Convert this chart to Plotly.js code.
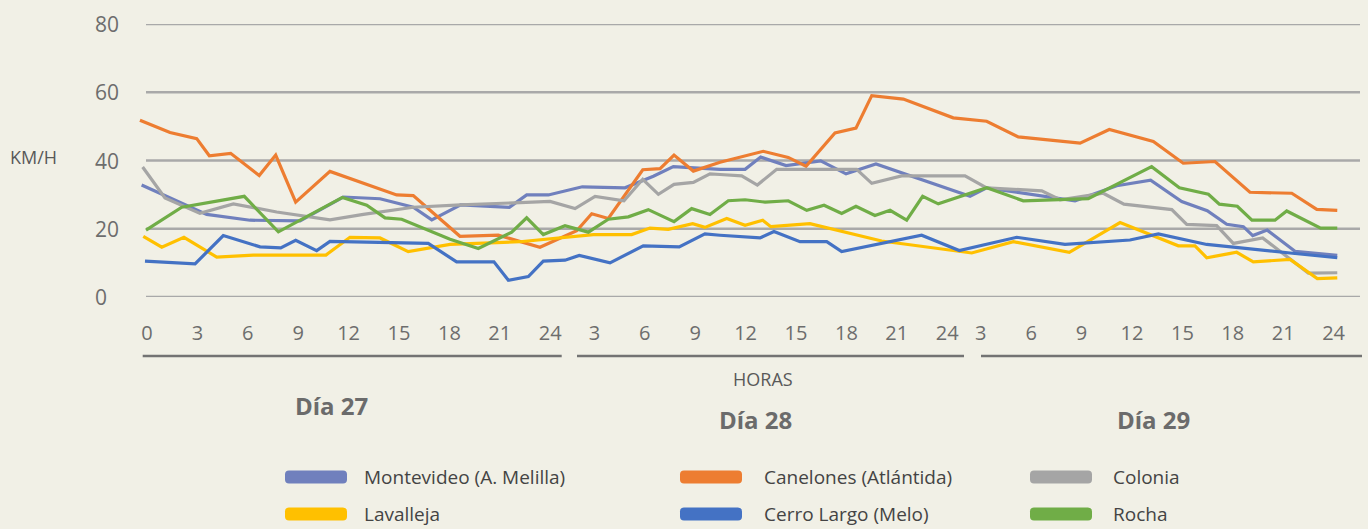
<!DOCTYPE html>
<html><head><meta charset="utf-8">
<script src="https://cdn.plot.ly/plotly-3.0.1.min.js"></script>
<style>html,body{margin:0;padding:0;background:#f1f0e6;} #chart{width:1368px;height:529px;}</style>
</head><body><div id="chart"></div>
<script>
// ---- Data (x = continuous hour position on the axis, y = km/h) ----
const seriesNames = ['Montevideo (A. Melilla)', 'Canelones (Atlántida)', 'Colonia', 'Lavalleja', 'Cerro Largo (Melo)', 'Rocha'];
const seriesColors = ['#7080bd', '#ed7d31', '#a5a5a5', '#ffc000', '#4472c4', '#70ad47'];

const montevideoX = [-0.32,3.55,6.13,9.11,11.68,13.87,15.85,16.95,18.67,21.57,22.6,23.89,25.91,28.45,30.14,31.33,34.11,35.6,36.53,38.04,40.1,41.61,43.39,48.99,49.98,55.24,57.72,59.74,61.59,63.11,64.27,65.26,65.82,66.68,68.33,70.85];
const montevideoY = [32.8,24.2,22.5,22.3,29.3,28.8,26.3,22.6,27.0,26.3,29.9,29.9,32.3,32.0,35.4,38.2,37.4,37.4,41.0,38.5,39.9,36.1,39.0,29.5,32.0,28.2,32.6,34.2,28.0,25.3,21.3,20.6,18.0,19.6,13.4,12.2];

const canelonesX = [-0.42,1.37,2.96,3.71,4.98,6.68,7.66,8.85,10.89,14.86,15.85,18.63,20.91,23.39,25.58,26.47,27.46,29.51,30.54,31.37,32.52,34.11,36.68,38.17,39.23,40.95,42.2,43.14,45.02,47.99,49.98,51.86,55.54,57.28,59.9,61.68,63.57,65.65,68.14,69.63,70.85];
const canelonesY = [51.8,48.2,46.4,41.4,42.1,35.6,41.6,27.8,36.8,29.9,29.7,17.8,18.1,14.6,19.4,24.4,23.0,37.3,37.6,41.6,36.9,39.5,42.7,40.9,38.3,48.1,49.5,59.0,58.0,52.5,51.5,46.9,45.1,49.1,45.6,39.2,39.7,30.7,30.4,25.7,25.4];

const coloniaX = [-0.26,1.07,3.15,5.14,7.72,10.89,12.88,15.85,18.67,23.99,25.48,26.67,28.39,29.51,30.44,31.37,32.52,33.51,34.11,35.4,36.33,37.48,42.24,43.14,44.92,48.69,49.98,53.26,54.35,56.92,58.15,61.0,61.89,63.67,64.66,66.41,69.13,70.85];
const coloniaY = [38.1,29.0,24.5,27.3,24.9,22.6,24.2,26.3,27.0,28.0,25.9,29.5,28.2,34.5,30.1,33.0,33.6,36.1,35.9,35.5,32.8,37.4,37.4,33.3,35.5,35.5,32.0,31.1,28.5,30.4,27.2,25.6,21.3,20.9,15.7,17.3,7.0,7.1];

const lavallejaX = [-0.22,0.88,2.2,4.15,6.33,10.65,12.08,13.87,15.55,16.85,18.04,22.2,26.57,28.85,29.94,31.03,32.48,33.21,34.51,35.6,36.65,37.13,39.46,43.73,49.09,51.57,54.9,57.92,61.39,62.38,63.08,64.86,65.85,68.04,69.66,70.85];
const lavallejaY = [17.8,14.6,17.5,11.7,12.3,12.3,17.5,17.3,13.3,14.5,15.4,16.2,18.3,18.3,20.2,19.8,21.5,20.4,23.0,21.0,22.5,20.6,21.5,16.4,12.9,16.2,13.1,21.8,15.0,15.0,11.5,13.1,10.3,11.0,5.4,5.6];

const cerroLargoX = [-0.12,2.86,4.54,6.73,7.96,8.85,10.1,10.89,16.74,18.43,20.65,21.51,22.7,23.59,24.88,25.73,27.56,29.54,31.68,33.21,34.11,36.49,37.32,38.87,40.46,41.35,46.11,48.35,51.77,54.64,58.51,60.2,63.08,65.26,68.04,70.85];
const cerroLargoY = [10.5,9.7,18.0,14.7,14.4,16.6,13.6,16.3,15.7,10.3,10.3,4.9,6.0,10.5,10.8,12.2,10.0,15.0,14.7,18.5,18.1,17.3,19.2,16.2,16.2,13.3,18.1,13.6,17.5,15.4,16.7,18.5,15.4,14.4,12.9,11.5];

const rochaX = [-0.06,2.07,5.79,7.82,11.63,13.08,14.17,15.16,18.04,19.72,21.71,22.6,23.59,24.88,26.27,27.46,28.65,29.84,31.37,32.42,33.51,34.6,35.6,36.79,38.17,39.27,40.3,41.35,42.2,43.33,44.23,45.22,46.17,47.1,49.98,52.16,56.03,57.72,59.8,61.45,63.18,63.83,64.9,65.77,67.14,67.84,69.86,70.85];
const rochaY = [19.6,26.3,29.5,19.1,29.2,26.9,23.2,22.8,16.9,14.2,19.0,23.2,18.3,20.9,19.0,22.8,23.5,25.6,22.1,25.9,24.2,28.2,28.5,27.8,28.2,25.4,26.9,24.5,26.6,23.9,25.4,22.5,29.5,27.3,32.0,28.2,28.8,33.0,38.2,32.0,30.1,27.2,26.6,22.5,22.5,25.2,20.2,20.2];

// Axis ticks
const dayNames = ['Día 27', 'Día 28', 'Día 29'];
const dayOffsets = [0, 23.63, 46.63];
const dayTickHours = [[0,3,6,9,12,15,18,21,24],[3,6,9,12,15,18,21,24],[3,6,9,12,15,18,21,24]];
const yTicks = [0, 20, 40, 60, 80];
const xTitle = 'HORAS';
const yTitle = 'KM/H';

// ---- Layout geometry (pixels) ----
const W = 1368, H = 529, L = 139, R = 1362, T = 24, B = 297;
const pxX = x => (x - L) / (R - L);
const pxY = y => (B - y) / (B - T);
const FONT = 'Open Sans, Noto Sans, sans-serif';

const xs = [montevideoX, canelonesX, coloniaX, lavallejaX, cerroLargoX, rochaX];
const ys = [montevideoY, canelonesY, coloniaY, lavallejaY, cerroLargoY, rochaY];

const traces = seriesNames.map((n, i) => ({
  type: 'scatter', mode: 'lines', name: n, x: xs[i], y: ys[i],
  line: {color: seriesColors[i], width: 3.2}, hoverinfo: 'skip', cliponaxis: false
}));

const tickvals = [], ticktext = [];
dayTickHours.forEach((hrs, d) => hrs.forEach(h => { tickvals.push(dayOffsets[d] + h); ticktext.push(String(h)); }));

const shapes = [];
const annotations = [];
// horizontal gridlines
yTicks.forEach(v => shapes.push({type: 'line', xref: 'paper', yref: 'y', x0: pxX(146), x1: pxX(1360), y0: v, y1: v, line: {color: '#a9a9a9', width: 2.6}, layer: 'below'}));
// y tick labels (left aligned)
yTicks.forEach(v => annotations.push({xref: 'paper', yref: 'y', x: pxX(93), y: v, xanchor: 'left', yanchor: 'middle', text: String(v), showarrow: false, font: {family: FONT, size: 21, color: '#6d6d6d'}}));
// day brackets
const bracketPx = [[142.7, 561.7], [577, 964], [981, 1362]];
bracketPx.forEach(b => shapes.push({type: 'line', xref: 'paper', yref: 'paper', x0: pxX(b[0]), x1: pxX(b[1]), y0: pxY(356), y1: pxY(356), line: {color: '#737373', width: 2.6}}));
// day labels
const dayLabelPx = [[331, 405], [755, 419], [1153, 419]];
dayNames.forEach((d, i) => annotations.push({xref: 'paper', yref: 'paper', x: pxX(dayLabelPx[i][0]), y: pxY(dayLabelPx[i][1]), xanchor: 'center', yanchor: 'middle', text: '<b>' + d + '</b>', showarrow: false, font: {family: FONT, size: 24, color: '#6b6b6b'}}));
// axis titles
annotations.push({xref: 'paper', yref: 'paper', x: pxX(763), y: pxY(379), xanchor: 'center', yanchor: 'middle', text: xTitle, showarrow: false, font: {family: FONT, size: 18, color: '#595959'}});
annotations.push({xref: 'paper', yref: 'paper', x: pxX(33), y: pxY(157), xanchor: 'center', yanchor: 'middle', text: yTitle, showarrow: false, font: {family: FONT, size: 18, color: '#595959'}});

// custom legend (3 columns x 2 rows)
const legSwatchX = [285, 680, 1030], legTextX = [362, 762, 1111], legRowY = [477, 514];
function roundRect(x0, yc, w, h, r) {
  const a = pxX(x0), b = pxX(x0 + w), top = pxY(yc - h / 2), bot = pxY(yc + h / 2);
  const rx = r / (R - L), ry = r / (B - T);
  return `M ${a + rx} ${top} L ${b - rx} ${top} Q ${b} ${top} ${b} ${top - ry} L ${b} ${bot + ry} Q ${b} ${bot} ${b - rx} ${bot} L ${a + rx} ${bot} Q ${a} ${bot} ${a} ${bot + ry} L ${a} ${top - ry} Q ${a} ${top} ${a + rx} ${top} Z`;
}
seriesNames.forEach((n, i) => {
  const col = i % 3, row = Math.floor(i / 3);
  shapes.push({type: 'path', xref: 'paper', yref: 'paper', path: roundRect(legSwatchX[col], legRowY[row], 62, 13, 4), fillcolor: seriesColors[i], line: {width: 0}});
  annotations.push({xref: 'paper', yref: 'paper', x: pxX(legTextX[col]), y: pxY(legRowY[row]), xanchor: 'left', yanchor: 'middle', text: n, showarrow: false, font: {family: FONT, size: 19, color: '#444444'}});
});

const layout = {
  width: W, height: H,
  margin: {l: L, r: W - R, t: T, b: H - B, pad: 0},
  paper_bgcolor: '#f1f0e6', plot_bgcolor: '#f1f0e6',
  showlegend: false, hovermode: false,
  xaxis: {range: [(L - 147) / 16.8, (R - 147) / 16.8], tickmode: 'array', tickvals: tickvals, ticktext: ticktext,
          showgrid: false, zeroline: false, showline: false, ticks: '', ticklabelstandoff: 22,
          tickfont: {family: FONT, size: 20, color: '#6d6d6d'}, fixedrange: true},
  yaxis: {range: [0, 80], showgrid: false, zeroline: false, showline: false, showticklabels: false, ticks: '', fixedrange: true},
  shapes: shapes, annotations: annotations
};
Plotly.newPlot('chart', traces, layout, {staticPlot: true, displayModeBar: false});
</script></body></html>
